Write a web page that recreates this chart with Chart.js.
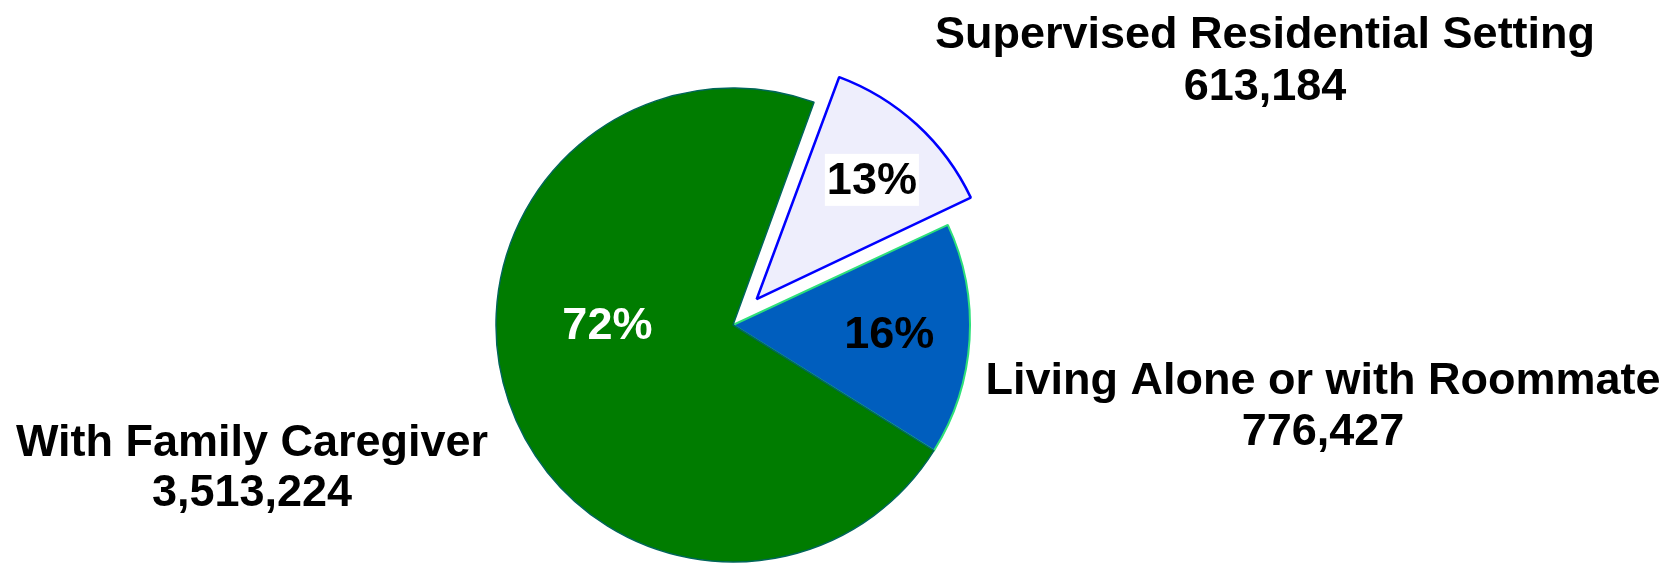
<!DOCTYPE html>
<html>
<head>
<meta charset="utf-8">
<script src="https://cdn.jsdelivr.net/npm/chart.js@4"></script>
<style>
  html, body { margin: 0; padding: 0; background: #fff; overflow: hidden; }
  #wrap { width: 1665px; height: 563px; position: relative; }
</style>
</head>
<body>
<div id="wrap"><canvas id="pie"></canvas></div>
<script>
// slice data, clockwise from the exploded slice
const categories = ["Supervised Residential Setting", "Living Alone or with Roommate", "With Family Caregiver"];
const people = [613184, 776427, 3513224];

const fills = ["#EEEEFC", "#005EBE", "#007C00"];
const edges = ["#0000FF", "#2EE07A", "#00665A"];
const edgeWidths = [2.5, 2, 1.5];
const explode = [140, 0, 0];

const FONT = "bold 45px 'Liberation Sans', Arial, sans-serif";

// where the percent goes inside each slice: degrees clockwise from top, fraction of radius
const pctSpot = [
    { deg: 44, r: 0.70, color: "#000", box: true },
    { deg: 93, r: 0.66, color: "#000" },
    { deg: 270, r: 0.53, color: "#fff" }
];
// outside captions, pixel offsets from the pie centre (line 1 and line 2 mid heights)
const captionSpot = [
    { dx: 532, y1: -289, y2: -237 },
    { dx: 590, y1: 57, y2: 108 },
    { dx: -481, y1: 119, y2: 169 }
];

const total = people.reduce((a, b) => a + b, 0);

// Chart.js grows an offset arc's radius; shrink it back so the exploded slice keeps the pie radius
function radiusGrowth(arc) {
    const off = (arc.options.offset || 0) / 4;
    return off * (1 - Math.sin(Math.min(Math.PI, arc.circumference || 0)));
}

const sliceLabels = {
    id: "sliceLabels",
    beforeDatasetsDraw(chart) {
        chart.getDatasetMeta(0).data.forEach(arc => {
            arc._keepR = arc.outerRadius;
            arc.outerRadius = arc.outerRadius - radiusGrowth(arc);
        });
    },
    afterDatasetsDraw(chart) {
        const ctx = chart.ctx;
        const arcs = chart.getDatasetMeta(0).data;
        arcs.forEach(arc => { arc.outerRadius = arc._keepR; });
        ctx.save();
        ctx.font = FONT;
        ctx.textAlign = "center";
        ctx.textBaseline = "middle";
        arcs.forEach((arc, i) => {
            const p = arc.getProps(["x", "y", "startAngle", "endAngle", "outerRadius"], true);
            const half = (p.startAngle + p.endAngle) / 2;
            const shift = (arc.options.offset || 0) / 4;
            const cx = p.x + Math.cos(half) * shift;
            const cy = p.y + Math.sin(half) * shift;

            const s = pctSpot[i];
            const a = (s.deg - 90) * Math.PI / 180;
            const tx = cx + Math.cos(a) * s.r * p.outerRadius;
            const ty = cy + Math.sin(a) * s.r * p.outerRadius;
            const txt = Math.round(people[i] / total * 100) + "%";
            if (s.box) {
                const w = ctx.measureText(txt).width + 4;
                ctx.fillStyle = "#fff";
                ctx.fillRect(tx - w / 2, ty - 26, w, 52);
            }
            ctx.fillStyle = s.color;
            ctx.fillText(txt, tx, ty + 2);

            const c = captionSpot[i];
            ctx.fillStyle = "#000";
            ctx.fillText(categories[i], p.x + c.dx, p.y + c.y1);
            ctx.fillText(people[i].toLocaleString("en-US"), p.x + c.dx, p.y + c.y2);
        });
        ctx.restore();
    }
};

new Chart(document.getElementById("pie"), {
    type: "pie",
    data: {
        labels: categories,
        datasets: [{
            data: people,
            backgroundColor: fills,
            borderColor: edges,
            borderWidth: edgeWidths,
            offset: explode,
            hoverOffset: 0
        }]
    },
    options: {
        responsive: true,
        maintainAspectRatio: false,
        animation: false,
        events: [],
        rotation: 20,
        radius: 237,
        layout: { padding: { left: 0, right: 199, top: 87, bottom: 0 } },
        plugins: { legend: { display: false }, tooltip: { enabled: false } }
    },
    plugins: [sliceLabels]
});
</script>
</body>
</html>
